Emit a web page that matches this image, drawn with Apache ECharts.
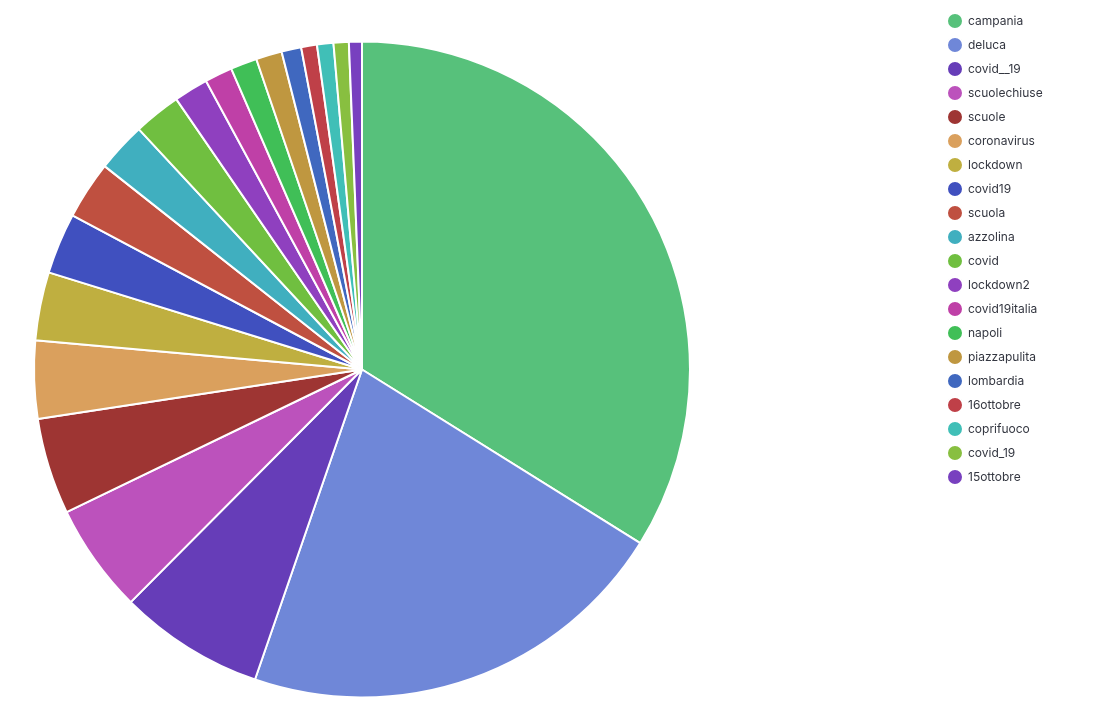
<!DOCTYPE html>
<html><head><meta charset="utf-8">
<script src="https://cdn.jsdelivr.net/npm/echarts@6/dist/echarts.min.js"></script>
<style>html,body{margin:0;padding:0;background:#fff}#c{width:1101px;height:703px}</style>
</head><body><div id="c"></div>
<script>
const categories = ['campania','deluca','covid__19','scuolechiuse','scuole','coronavirus','lockdown','covid19','scuola','azzolina','covid','lockdown2','covid19italia','napoli','piazzapulita','lombardia','16ottobre','coprifuoco','covid_19','15ottobre'];
const values = [1220,771,258,194,171,138,121,108,103,88,84,61,49,47,46,35,28,29,27,23];
const colors = ['#57c17b','#6f87d8','#663db8','#bc52bc','#9e3533','#daa05d','#bfaf40','#4050bf','#bf5040','#40afbf','#70bf40','#8f40bf','#bf40a7','#40bf57','#bf9740','#4068bf','#bf4048','#40bfb7','#88bf40','#7840bf'];
const chart = echarts.init(document.getElementById('c'));
chart.setOption({
  animation:false,
  color: colors,
  legend:{orient:'vertical',left:941,top:7,icon:'circle',itemWidth:16,itemHeight:16,itemGap:6,
    textStyle:{fontFamily:'Inter',fontSize:12,color:'#343741'},data:categories},
  series:[{type:'pie',center:[362,369.5],radius:328,startAngle:90,clockwise:true,
    label:{show:false},labelLine:{show:false},
    itemStyle:{borderColor:'#fff',borderWidth:2},
    data:categories.map((n,i)=>({name:n,value:values[i]}))}]
});
</script></body></html>
